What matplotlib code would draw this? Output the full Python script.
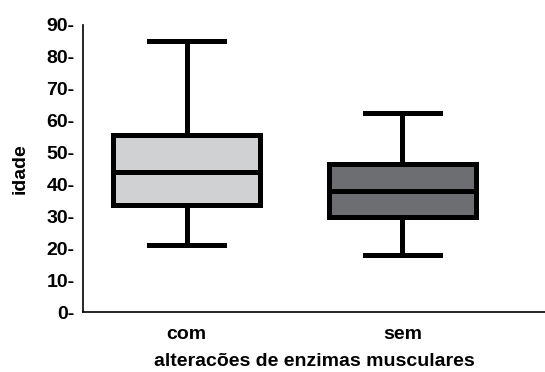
import matplotlib
matplotlib.use("Agg")
import matplotlib.pyplot as plt

plt.rcParams['font.family'] = ['Liberation Sans', 'DejaVu Sans']
plt.rcParams['font.weight'] = 'bold'

# five-number summaries
grupos = ["com", "sem"]
minimo = [21, 18]
q1 = [33.5, 29.8]
mediana = [44, 38]
q3 = [55.5, 46.4]
maximo = [85, 62.5]
cores = ['#d0d1d3', '#6d6e72']

yticks = list(range(0, 100, 10))

stats = []
for i, g in enumerate(grupos):
    stats.append({'label': g, 'whislo': minimo[i], 'q1': q1[i], 'med': mediana[i],
                  'q3': q3[i], 'whishi': maximo[i], 'fliers': []})

fig = plt.figure(figsize=(5.45, 3.72), dpi=100)
ax = fig.add_axes([0.152, 0.161, 0.848, 0.772])

lw = 3.6
bp = ax.bxp(stats, positions=[1, 2], widths=0.68, patch_artist=True, showfliers=False,
            capwidths=0.35,
            boxprops=dict(linewidth=lw, edgecolor='black'),
            medianprops=dict(linewidth=lw, color='black'),
            whiskerprops=dict(linewidth=lw, color='black'),
            capprops=dict(linewidth=lw, color='black'))
for patch, c in zip(bp['boxes'], cores):
    patch.set_facecolor(c)
    patch.set_joinstyle('miter')

ax.set_xlim(0.52, 2.66)
ax.set_ylim(0, 90)
ax.set_yticks(yticks)
ax.set_yticklabels([f"{t}-" for t in yticks], fontsize=14, fontweight='bold')
ax.tick_params(axis='y', length=0, pad=6)
ax.tick_params(axis='x', length=0, pad=10, labelsize=14)
ax.set_xticks([1, 2])
ax.set_xticklabels(grupos, fontweight='bold')

ax.spines['top'].set_visible(False)
ax.spines['right'].set_visible(False)
ax.spines['left'].set_linewidth(1.2)
ax.spines['bottom'].set_linewidth(1.2)

ax.set_ylabel("idade", fontsize=14, fontweight='bold', labelpad=13)
ax.set_xlabel("alteracões de enzimas musculares", fontsize=14, fontweight='bold', labelpad=7)

fig.savefig("out.png", dpi=100)
